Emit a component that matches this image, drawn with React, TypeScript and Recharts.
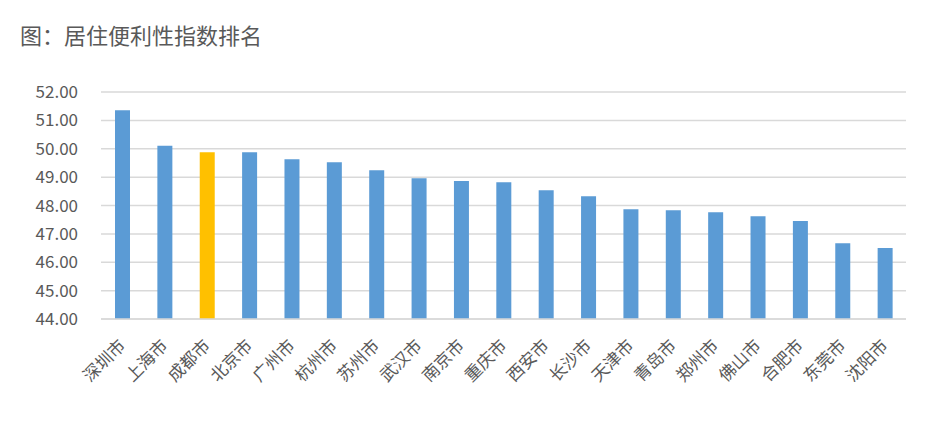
import React from 'react';
import { BarChart, Bar, XAxis, YAxis, CartesianGrid, Cell } from 'recharts';

const cities = [
  '深圳市', '上海市', '成都市', '北京市', '广州市', '杭州市', '苏州市', '武汉市', '南京市', '重庆市',
  '西安市', '长沙市', '天津市', '青岛市', '郑州市', '佛山市', '合肥市', '东莞市', '沈阳市',
];
const scores = [
  51.36, 50.11, 49.88, 49.88, 49.63, 49.52, 49.24, 48.96, 48.86, 48.82,
  48.54, 48.33, 47.87, 47.83, 47.76, 47.62, 47.45, 46.67, 46.5,
];
const highlightCity = '成都市';
const yTicks = [44, 45, 46, 47, 48, 49, 50, 51, 52];

const data = cities.map((city, i) => ({ city, score: scores[i] }));

const font = '"Noto Sans CJK SC", "Noto Sans", sans-serif';
const textColor = '#595959';

const CityTick = (props: any) => {
  const { x, y, payload } = props;
  const ay = y + 24;
  return (
    <text
      x={x + 6}
      y={ay}
      transform={`rotate(-45, ${x}, ${ay})`}
      textAnchor="end"
      fill={textColor}
      fontSize={17}
      fontFamily={font}
    >
      {payload.value}
    </text>
  );
};

export default function App() {
  return (
    <div style={{ position: 'absolute', left: 0, top: 0, width: 942, height: 422, background: '#fff', fontFamily: font }}>
      <div style={{ position: 'absolute', left: 20, top: 19, fontSize: 22, color: textColor, lineHeight: '30px' }}>
        图：居住便利性指数排名
      </div>
      <BarChart
        width={942}
        height={422}
        data={data}
        margin={{ top: 92, right: 36, bottom: 0, left: 0 }}
        barCategoryGap={0}
      >
        <CartesianGrid vertical={false} stroke="#D9D9D9" strokeWidth={1.5} />
        <XAxis
          dataKey="city"
          interval={0}
          height={103}
          axisLine={{ stroke: '#D9D9D9', strokeWidth: 1.5 }}
          tickLine={false}
          tick={<CityTick />}
        />
        <YAxis
          domain={[44, 52]}
          ticks={yTicks}
          width={101}
          axisLine={false}
          tickLine={false}
          tickSize={0}
          tickMargin={23}
          tickFormatter={(v: number) => v.toFixed(2)}
          tick={{ fill: textColor, fontSize: 17, fontFamily: font }}
        />
        <Bar dataKey="score" barSize={15} isAnimationActive={false}>
          {data.map((d, i) => (
            <Cell key={`cell-${i}`} fill={d.city === highlightCity ? '#FFC000' : '#5B9BD5'} />
          ))}
        </Bar>
      </BarChart>
    </div>
  );
}
